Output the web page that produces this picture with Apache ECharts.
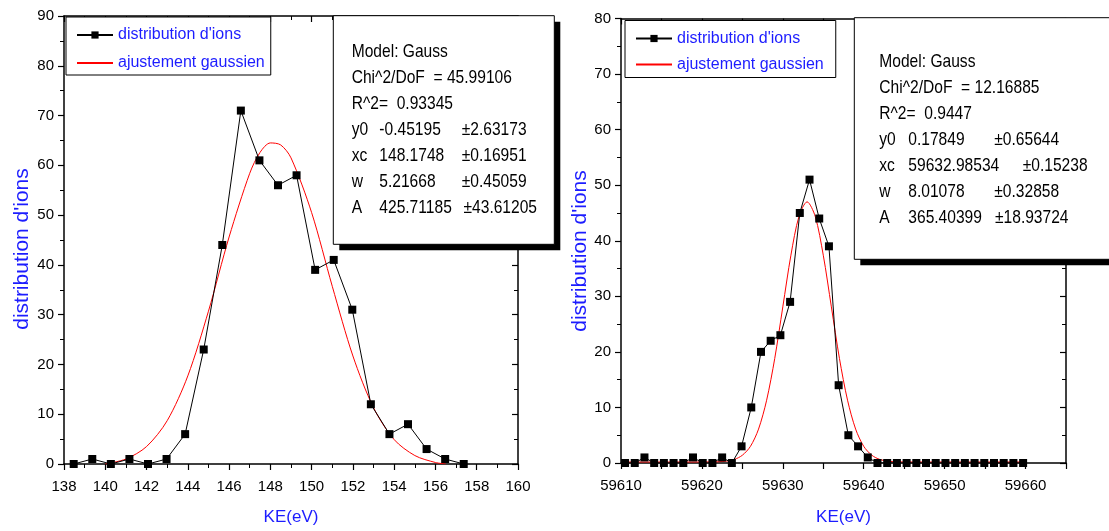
<!DOCTYPE html>
<html>
<head>
<meta charset="utf-8">
<script src="https://cdn.jsdelivr.net/npm/echarts@6/dist/echarts.min.js"></script>
<style>
html,body{margin:0;padding:0;background:#fff;}
#chart{width:1109px;height:531px;}
</style>
</head>
<body>
<div id="chart"></div>
<script>
// ---- Data ----
const seriesNames = ["distribution d'ions", "ajustement gaussien"];
const axisTitleX = "KE(eV)";
const axisTitleY = "distribution d'ions";

// Left panel: ion distribution around 148 eV
const leftKE = [138.47, 139.37, 140.27, 141.17, 142.07, 142.97, 143.87, 144.77, 145.67, 146.57, 147.47,
                148.37, 149.27, 150.17, 151.07, 151.97, 152.87, 153.77, 154.67, 155.57, 156.47, 157.37];
const leftCounts = [0, 1, 0, 1, 0, 1, 6, 23, 44, 71, 61, 56, 58, 39, 41, 31, 12, 6, 8, 3, 1, 0];
const leftFitKE = [140, 141, 142, 143, 144, 145, 146, 147, 147.5, 148, 148.5, 149, 150, 151, 152, 153, 154, 155, 156, 156.5];
const leftFitCounts = [0, 1.0, 3.5, 8.7, 17.7, 30.7, 45.6, 58.4, 62.6, 64.5, 64.1, 61.5, 50.5, 35.7, 21.7, 11.3, 4.9, 1.7, 0.3, 0];
const leftFitText = [
  ["Model: Gauss"],
  ["Chi^2/DoF  = 45.99106"],
  ["R^2=  0.93345"],
  ["y0", "-0.45195", "\u00b12.63173"],
  ["xc", "148.1748", "\u00b10.16951"],
  ["w", "5.21668", "\u00b10.45059"],
  ["A", "425.71185", "\u00b143.61205"]
];

// Right panel: ion distribution around 59633 eV
const rightKE = [59610.5, 59611.7, 59612.9, 59614.1, 59615.3, 59616.5, 59617.7, 59618.9, 59620.1, 59621.3,
                 59622.5, 59623.7, 59624.9, 59626.1, 59627.3, 59628.5, 59629.7, 59630.9, 59632.1, 59633.3,
                 59634.5, 59635.7, 59636.9, 59638.1, 59639.3, 59640.5, 59641.7, 59642.9, 59644.1, 59645.3,
                 59646.5, 59647.7, 59648.9, 59650.1, 59651.3, 59652.5, 59653.7, 59654.9, 59656.1, 59657.3,
                 59658.5, 59659.7];
const rightCounts = [0, 0, 1, 0, 0, 0, 0, 1, 0, 0,
                     1, 0, 3, 10, 20, 22, 23, 29, 45, 51,
                     44, 39, 14, 5, 3, 1, 0, 0, 0, 0,
                     0, 0, 0, 0, 0, 0, 0, 0, 0, 0,
                     0, 0];
const rightFitKE = [59610.5, 59618, 59621, 59622, 59623, 59624, 59625, 59626, 59627, 59628, 59629, 59630,
                    59631, 59632, 59633, 59634, 59635, 59636, 59637, 59638, 59639, 59640, 59641, 59642,
                    59643, 59644, 59646, 59659.7];
const rightFitCounts = [0.18, 0.18, 0.2, 0.22, 0.33, 0.63, 1.4, 3.0, 6.1, 11.3, 18.8, 28.1,
                        37.4, 44.4, 47.0, 44.4, 37.4, 28.1, 18.8, 11.3, 6.1, 3.0, 1.4, 0.63,
                        0.33, 0.22, 0.18, 0.18];
const rightFitText = [
  ["Model: Gauss"],
  ["Chi^2/DoF  = 12.16885"],
  ["R^2=  0.9447"],
  ["y0", "0.17849", "\u00b10.65644"],
  ["xc", "59632.98534", "\u00b10.15238"],
  ["w", "8.01078", "\u00b10.32858"],
  ["A", "365.40399", "\u00b118.93724"]
];

// Tick settings
const leftX = {min: 138, max: 160, interval: 2};
const leftY = {min: 0, max: 90, interval: 10};
const rightX = {min: 59610, max: 59665, interval: 5};
const rightY = {min: 0, max: 80, interval: 10};

// ---- Styling ----
const REG = "'Liberation Sans', Arial, sans-serif";
const BLUE = '#1c1cff';
const LABEL_FS = 15;

const zip = (a, b) => a.map((v, i) => [v, b[i]]);

function axisCommon(extra) {
  return Object.assign({
    type: 'value',
    splitLine: {show: false},
    axisLine: {show: true, onZero: false, lineStyle: {color: '#000', width: 1.5}},
    axisTick: {show: true, length: 6, lineStyle: {color: '#000', width: 1.2}},
    minorTick: {show: true, splitNumber: 2, length: 4, lineStyle: {color: '#000', width: 1}},
    axisLabel: {color: '#000', fontSize: LABEL_FS, fontFamily: REG}
  }, extra);
}

function boxGraphics(x, y, w, h, firstRow, rows, cols) {
  const els = [];
  els.push({type: 'rect', z: 100, shape: {x: x + 6, y: y + 6, width: w, height: h}, style: {fill: '#000'}, silent: true});
  els.push({type: 'rect', z: 101, shape: {x: x, y: y, width: w, height: h}, style: {fill: '#fff', stroke: '#000', lineWidth: 1}, silent: true});
  rows.forEach((r, i) => {
    r.forEach((t, j) => {
      els.push({type: 'text', z: 102, x: cols[i][j], y: y + firstRow + i * 26, scaleX: 0.82,
        style: {text: t, fill: '#000', font: '19px ' + REG, textAlign: 'left', textVerticalAlign: 'middle'}, silent: true});
    });
  });
  return els;
}

const leftCols = [[351.7], [351.7], [351.7], [351.7, 379.3, 461.7], [351.7, 379.3, 461.7], [351.7, 379.3, 461.7], [351.7, 379.3, 463.5]];
const rightCols = [[879.3], [879.3], [879.3], [879.3, 908.3, 994.3], [879.3, 908.3, 1022.7], [879.3, 908.3, 994.3], [879.3, 908.3, 995]];

function legendData() {
  return [
    {name: seriesNames[0]},
    {name: seriesNames[1], itemStyle: {color: 'rgba(0,0,0,0)', borderWidth: 0, opacity: 0}}
  ];
}

const chart = echarts.init(document.getElementById('chart'), null, {renderer: 'canvas'});

const option = {
  backgroundColor: '#fff',
  animation: false,
  grid: [
    {left: 64, top: 16, width: 454, height: 448, containLabel: false},
    {left: 621, top: 18.5, width: 445, height: 445, containLabel: false}
  ],
  legend: [
    {
      data: legendData(), orient: 'vertical', left: 66, top: 17,
      padding: [10, 6, 4, 10], itemGap: 12, itemWidth: 36, itemHeight: 9,
      borderColor: '#000', borderWidth: 1, backgroundColor: '#fff',
      textStyle: {color: BLUE, fontSize: 16, fontFamily: REG}
    },
    {
      data: legendData(), orient: 'vertical', left: 625, top: 20.5,
      padding: [10, 12, 5, 10], itemGap: 10, itemWidth: 36, itemHeight: 9,
      borderColor: '#000', borderWidth: 1, backgroundColor: '#fff',
      textStyle: {color: BLUE, fontSize: 16, fontFamily: REG}
    }
  ],
  xAxis: [
    axisCommon(Object.assign({gridIndex: 0, position: 'bottom', name: axisTitleX, nameLocation: 'middle', nameGap: 45,
      nameTextStyle: {color: BLUE, fontSize: 17, fontFamily: REG},
      axisLabel: {color: '#000', fontSize: LABEL_FS, fontFamily: REG, margin: 15}}, leftX)),
    axisCommon(Object.assign({gridIndex: 0, position: 'top', axisLabel: {show: false},
      axisTick: {show: true, inside: true, length: 6, lineStyle: {color: '#000', width: 1.2}}}, leftX)),
    axisCommon(Object.assign({gridIndex: 1, position: 'bottom', name: axisTitleX, nameLocation: 'middle', nameGap: 46,
      nameTextStyle: {color: BLUE, fontSize: 17, fontFamily: REG},
      minorTick: {show: false},
      axisLabel: {color: '#000', fontSize: LABEL_FS, fontFamily: REG, margin: 15,
        formatter: v => (Math.round(v) % 10 === 0 && v < 59665) ? String(v) : ''}}, rightX)),
    axisCommon(Object.assign({gridIndex: 1, position: 'top', axisLabel: {show: false}, minorTick: {show: false},
      axisTick: {show: true, inside: true, length: 6, lineStyle: {color: '#000', width: 1.2}}}, rightX))
  ],
  yAxis: [
    axisCommon(Object.assign({gridIndex: 0, position: 'left', axisLabel: {color: '#000', fontSize: LABEL_FS, fontFamily: REG, margin: 10}}, leftY)),
    axisCommon(Object.assign({gridIndex: 0, position: 'right', axisLabel: {show: false},
      axisTick: {show: true, inside: true, length: 6, lineStyle: {color: '#000', width: 1.2}}}, leftY)),
    axisCommon(Object.assign({gridIndex: 1, position: 'left', axisLabel: {color: '#000', fontSize: LABEL_FS, fontFamily: REG, margin: 10}}, rightY)),
    axisCommon(Object.assign({gridIndex: 1, position: 'right', axisLabel: {show: false},
      axisTick: {show: true, inside: true, length: 6, lineStyle: {color: '#000', width: 1.2}}}, rightY))
  ],
  series: [
    {name: seriesNames[0], type: 'line', xAxisIndex: 0, yAxisIndex: 0, data: zip(leftKE, leftCounts),
      symbol: 'rect', symbolSize: 8, itemStyle: {color: '#000'}, lineStyle: {color: '#000', width: 1}, z: 3},
    {name: seriesNames[1], type: 'line', xAxisIndex: 0, yAxisIndex: 0, data: zip(leftFitKE, leftFitCounts),
      symbol: 'none', smooth: 0.3, itemStyle: {color: '#ff0000'}, lineStyle: {color: '#ff0000', width: 1}, z: 2},
    {name: seriesNames[0], type: 'line', xAxisIndex: 2, yAxisIndex: 2, data: zip(rightKE, rightCounts),
      symbol: 'rect', symbolSize: 8, itemStyle: {color: '#000'}, lineStyle: {color: '#000', width: 1}, z: 3},
    {name: seriesNames[1], type: 'line', xAxisIndex: 2, yAxisIndex: 2, data: zip(rightFitKE, rightFitCounts),
      symbol: 'none', smooth: 0.3, itemStyle: {color: '#ff0000'}, lineStyle: {color: '#ff0000', width: 1}, z: 2}
  ],
  graphic: {
    elements: [
      {type: 'text', z: 50, x: 22, y: 249, rotation: Math.PI / 2,
        style: {text: axisTitleY, fill: BLUE, font: '21px ' + REG, textAlign: 'center', textVerticalAlign: 'middle'}},
      {type: 'text', z: 50, x: 580, y: 251, rotation: Math.PI / 2,
        style: {text: axisTitleY, fill: BLUE, font: '21px ' + REG, textAlign: 'center', textVerticalAlign: 'middle'}}
    ].concat(boxGraphics(333.3, 15.7, 221, 228.6, 36.5, leftFitText, leftCols))
     .concat(boxGraphics(854.3, 17.7, 270, 241.6, 44, rightFitText, rightCols))
  }
};
chart.setOption(option);
</script>
</body>
</html>
